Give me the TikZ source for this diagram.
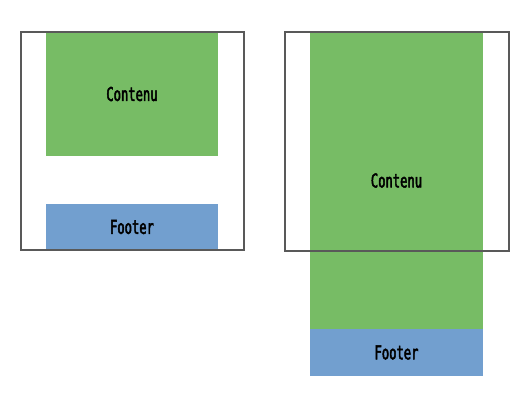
\documentclass[tikz,border=0pt]{standalone}
\usepackage{fontspec}
\newfontfamily\boxfont[FakeStretch=0.64,FakeBold=2.5]{DejaVu Sans Mono}
\usepackage{tikz}
\usetikzlibrary{positioning}
\definecolor{cgreen}{HTML}{77BC65}
\definecolor{cblue}{HTML}{729FCF}
\tikzset{
  zone/.style={anchor=north west,inner sep=0pt,outer sep=0pt,font=\boxfont\fontsize{19}{19}\selectfont},
  ctn/.style={zone,fill=cgreen,minimum width=172pt},
  ftr/.style={zone,fill=cblue,minimum width=172pt,minimum height=46pt},
  vp/.style={draw=black!65,line width=1.1pt,fill=none}
}
\begin{document}
\begin{tikzpicture}[x=1pt,y=-1pt]
\useasboundingbox (0,0) rectangle (528,408);
% page courte
\node[ctn,minimum height=124pt] (c1) at (46,32) {Contenu};
\node[ftr] (f1) at (46,204) {Footer};
\draw[vp] (21,32) rectangle (244,250);
% page longue
\node[ctn,minimum height=297pt,minimum width=173pt] (c2) at (310,32) {Contenu};
\node[ftr,minimum height=47pt,minimum width=173pt,below=0pt of c2] (f2) {Footer};
\draw[vp] (285,32) rectangle (509,251);
\end{tikzpicture}
\end{document}
